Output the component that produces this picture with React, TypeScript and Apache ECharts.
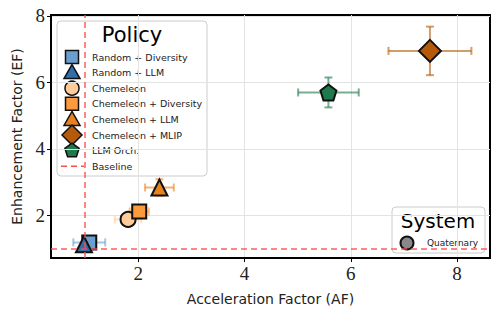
import React, { useEffect, useRef } from "react";
import * as echarts from "echarts";

const policies = [
  "Random + Diversity",
  "Random + LLM",
  "Chemeleon",
  "Chemeleon + Diversity",
  "Chemeleon + LLM",
  "Chemeleon + MLIP",
  "LLM Orch.",
];
const afValues = [1.08, 0.98, 1.81, 2.02, 2.4, 7.49, 5.58];
const efValues = [1.19, 1.13, 1.88, 2.12, 2.84, 6.95, 5.7];
const afErrors = [0.3, 0.0, 0.25, 0.18, 0.27, 0.78, 0.57];
const efErrors = [0.04, 0.0, 0.05, 0.08, 0.25, 0.73, 0.45];
const colors = ["#6a9fd0", "#2f6fae", "#ffcc99", "#fd9a3d", "#e8821e", "#b45a0a", "#1e7a4c"];
const PENT = "path://M0,-1 L0.951,-0.309 L0.588,0.809 L-0.588,0.809 L-0.951,-0.309 Z";
const symbols = ["rect", "triangle", "circle", "rect", "triangle", "diamond", PENT];
const sizes = [14, 16, 15, 14, 16, 22, 16];
const tickValues = [2, 4, 6, 8];
const baseline = 1;

export default function App() {
  const ref = useRef<HTMLDivElement>(null);
  useEffect(() => {
    const chart = echarts.init(ref.current!, null, { renderer: "svg" });
    const series: any[] = [];
    policies.forEach((p, i) => {
      series.push({
        type: "custom",
        name: p + " err",
        data: [[afValues[i], efValues[i], afErrors[i], efErrors[i]]],
        z: 3,
        renderItem: (params: any, api: any) => {
          const x = api.value(0), y = api.value(1), xe = api.value(2), ye = api.value(3);
          const l = api.coord([x - xe, y]);
          const r = api.coord([x + xe, y]);
          const t = api.coord([x, y + ye]);
          const b = api.coord([x, y - ye]);
          const cap = 4;
          const st = { stroke: colors[i], lineWidth: 2, opacity: 0.6 };
          const ch: any[] = [];
          if (xe > 0) {
            ch.push({ type: "line", shape: { x1: l[0], y1: l[1], x2: r[0], y2: r[1] }, style: st });
            ch.push({ type: "line", shape: { x1: l[0], y1: l[1] - cap, x2: l[0], y2: l[1] + cap }, style: st });
            ch.push({ type: "line", shape: { x1: r[0], y1: r[1] - cap, x2: r[0], y2: r[1] + cap }, style: st });
          }
          if (ye > 0) {
            ch.push({ type: "line", shape: { x1: t[0], y1: t[1], x2: b[0], y2: b[1] }, style: st });
            ch.push({ type: "line", shape: { x1: t[0] - cap, y1: t[1], x2: t[0] + cap, y2: t[1] }, style: st });
            ch.push({ type: "line", shape: { x1: b[0] - cap, y1: b[1], x2: b[0] + cap, y2: b[1] }, style: st });
          }
          return { type: "group", children: ch };
        },
      });
      series.push({
        type: "scatter",
        name: p,
        z: 4,
        symbol: symbols[i],
        symbolSize: sizes[i],
        data: [[afValues[i], efValues[i]]],
        itemStyle: { color: colors[i], borderColor: "#111", borderWidth: 2, opacity: 1 },
      });
    });
    series.push({
      type: "scatter",
      name: "Baseline",
      data: [],
      z: 5,
      markLine: {
        silent: true,
        symbol: "none",
        label: { show: false },
        lineStyle: { color: "#ff4d4d", type: [6, 4], width: 1.5, opacity: 0.9 },
        data: [{ xAxis: baseline }, { yAxis: baseline }],
      },
    });

    const legendX = 72, textX = 92, rowY0 = 57, rowGap = 15.6;
    const legendChildren: any[] = [
      { type: "rect", shape: { x: 57, y: 21, width: 150, height: 155, r: 4 }, style: { fill: "rgba(255,255,255,0.8)", stroke: "#cccccc", lineWidth: 1 } },
      { type: "text", style: { x: 132, y: 35, text: "Policy", font: "21px 'DejaVu Sans'", fill: "#000", align: "center", verticalAlign: "middle" } },
    ];
    const legMarker = (i: number, cy: number) => {
      const st = { fill: colors[i], stroke: "#111", lineWidth: 1.5 };
      switch (i) {
        case 0:
        case 3:
          return { type: "rect", shape: { x: legendX - 6.5, y: cy - 6.5, width: 13, height: 13 }, style: st };
        case 1:
        case 4:
          return { type: "polygon", shape: { points: [[legendX, cy - 8], [legendX + 8, cy + 6], [legendX - 8, cy + 6]] }, style: st };
        case 2:
          return { type: "circle", shape: { cx: legendX, cy, r: 7 }, style: st };
        case 5:
          return { type: "polygon", shape: { points: [[legendX, cy - 10], [legendX + 10, cy], [legendX, cy + 10], [legendX - 10, cy]] }, style: st };
        default: {
          const pts = [0, 1, 2, 3, 4].map((k) => {
            const a = -Math.PI / 2 + (k * 2 * Math.PI) / 5;
            return [legendX + 7.5 * Math.cos(a), cy + 7.5 * Math.sin(a)];
          });
          return { type: "polygon", shape: { points: pts }, style: st };
        }
      }
    };
    policies.forEach((p, i) => {
      const cy = rowY0 + i * rowGap;
      legendChildren.push(legMarker(i, cy));
      legendChildren.push({ type: "text", style: { x: textX, y: cy, text: p, font: "9.5px 'DejaVu Sans'", fill: "#222", verticalAlign: "middle" } });
    });
    const by = rowY0 + 7 * rowGap;
    legendChildren.push({ type: "line", shape: { x1: 61, y1: by, x2: 84, y2: by }, style: { stroke: "#ff4d4d", lineWidth: 1.5, lineDash: [6, 4] } });
    legendChildren.push({ type: "text", style: { x: textX, y: by, text: "Baseline", font: "9.5px 'DejaVu Sans'", fill: "#222", verticalAlign: "middle" } });

    const sysChildren: any[] = [
      { type: "rect", shape: { x: 392, y: 207, width: 93, height: 46, r: 4 }, style: { fill: "rgba(255,255,255,0.8)", stroke: "#cccccc", lineWidth: 1 } },
      { type: "text", style: { x: 438, y: 221, text: "System", font: "20px 'DejaVu Sans'", fill: "#000", align: "center", verticalAlign: "middle" } },
      { type: "circle", shape: { cx: 407, cy: 243, r: 6.5 }, style: { fill: "#888888", stroke: "#111", lineWidth: 2 } },
      { type: "text", style: { x: 427, y: 243, text: "Quaternary", font: "9px 'DejaVu Sans'", fill: "#222", verticalAlign: "middle" } },
    ];

    chart.setOption({
      animation: false,
      backgroundColor: "#fff",
      grid: { left: 51, right: 9, top: 15, bottom: 63, outerBoundsMode: "none", containLabel: false, show: true, borderColor: "#000", borderWidth: 2, backgroundColor: "transparent" },
      xAxis: {
        type: "value",
        min: 0.36,
        max: 8.62,
        name: "Acceleration Factor (AF)",
        nameLocation: "middle",
        nameGap: 34,
        nameTextStyle: { fontFamily: "DejaVu Sans", fontSize: 14, color: "#222" },
        axisLine: { show: true, onZero: false, lineStyle: { color: "#000", width: 2 } },
        axisTick: { show: true, customValues: tickValues, length: 4, lineStyle: { color: "#000", width: 1 } },
        axisLabel: { customValues: tickValues, fontFamily: "Liberation Serif", fontSize: 19, color: "#222", margin: 6 },
        splitLine: { show: true, lineStyle: { color: "#e3e3e3", width: 1 } },
      },
      yAxis: {
        type: "value",
        min: 0.72,
        max: 8.03,
        name: "Enhancement Factor (EF)",
        nameLocation: "middle",
        nameGap: 27,
        nameTextStyle: { fontFamily: "DejaVu Sans", fontSize: 14, color: "#222" },
        axisLine: { show: true, onZero: false, lineStyle: { color: "#000", width: 2 } },
        axisTick: { show: true, customValues: tickValues, length: 4, lineStyle: { color: "#000", width: 1 } },
        axisLabel: { customValues: tickValues, fontFamily: "Liberation Serif", fontSize: 19, color: "#222", margin: 6 },
        splitLine: { show: true, lineStyle: { color: "#e3e3e3", width: 1 } },
      },
      series,
      graphic: [
        { type: "group", z: 100, children: legendChildren },
        { type: "group", z: 100, children: sysChildren },
      ],
    });
    return () => chart.dispose();
  }, []);
  return <div ref={ref} style={{ width: 499, height: 321, position: "absolute", left: 0, top: 0 }} />;
}
